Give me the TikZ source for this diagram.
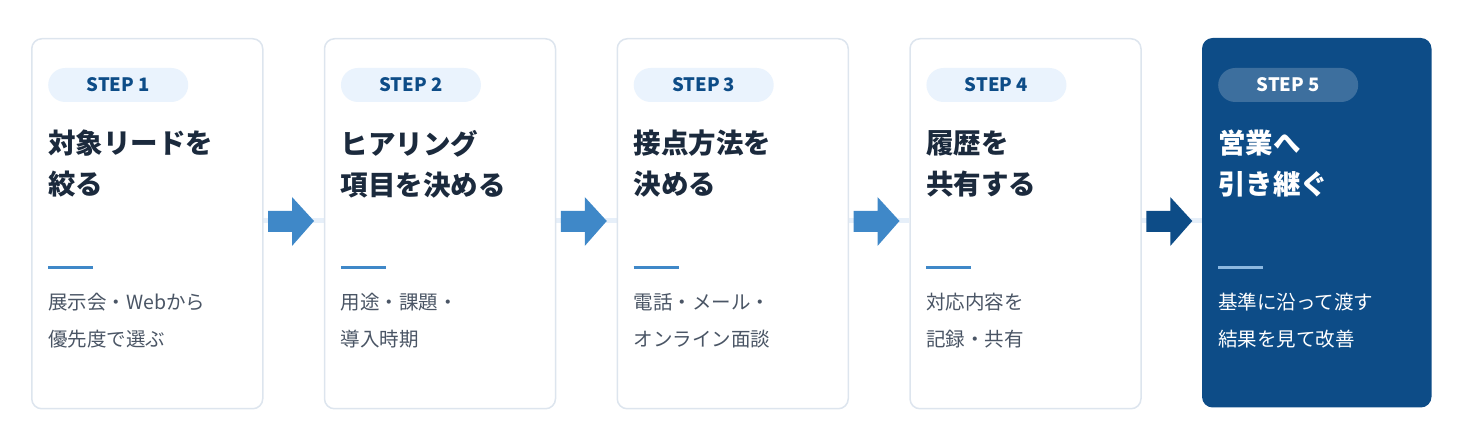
\documentclass[tikz,border=0pt]{standalone}
\usepackage{fontspec}
\setmainfont{Noto Sans CJK JP}
\definecolor{navy}{HTML}{0D4C87}
\definecolor{pill}{HTML}{EAF3FD}
\definecolor{pill5}{HTML}{3D6F9E}
\definecolor{cardb}{HTML}{DDE5EE}
\definecolor{ttl}{HTML}{1B2A3D}
\definecolor{bod}{HTML}{4A5565}
\definecolor{accc}{HTML}{3F88C8}
\definecolor{acc5}{HTML}{8CB8E0}
\definecolor{conn}{HTML}{E6EFF9}
\begin{document}
\begin{tikzpicture}[x=1pt,y=-1pt,
 card/.style={draw=cardb,line width=1.5pt,fill=white,rounded corners=10pt,minimum width=231pt,minimum height=370pt,anchor=north west,inner sep=0},
 card5/.style={card,draw=navy,fill=navy},
 pill/.style={fill=pill,rounded corners=17pt,minimum width=140pt,minimum height=34pt,anchor=west,text=navy,font=\fontsize{18.5}{20}\selectfont\bfseries,inner sep=0},
 ttl/.style={anchor=north west,align=left,inner sep=0,text=ttl,font=\fontsize{27.5}{41}\selectfont\bfseries},
 bod/.style={anchor=north west,align=left,inner sep=0,text=bod,font=\fontsize{19.5}{37}\selectfont},
 accl/.style={line width=3pt,draw=accc},
 conn/.style={draw=conn,line width=5pt}]
\useasboundingbox (0,0) rectangle (1462,427);
\foreach \i in {1,...,4}{
  \pgfmathsetmacro\xx{31+(\i-1)*292.75}
  \coordinate (ca\i) at (\xx+231,221);
  \coordinate (cb\i) at (\xx+292.75,221);
  \draw[conn] (ca\i) -- (cb\i);
}
\foreach \i/\t/\b in {1/{対象リードを\\絞る}/{展示会・Webから\\優先度で選ぶ},
                    2/{ヒアリング\\項目を決める}/{用途・課題・\\導入時期},
                    3/{接点方法を\\決める}/{電話・メール・\\オンライン面談},
                    4/{履歴を\\共有する}/{対応内容を\\記録・共有}}{
  \pgfmathsetmacro\xx{31+(\i-1)*292.75}
  \node[card] (c\i) at (\xx,38) {};
  \node[pill] (p\i) at (\xx+17,85) {STEP \i};
  \node[ttl] (t\i) at (\xx+17,130) {\t};
  \draw[accl] (\xx+17,268) -- (\xx+62,268);
  \node[bod] (b\i) at (\xx+17,293) {\b};
}
\node[card5,minimum width=228pt,minimum height=368pt] (c5) at (1202,38) {};
\node[pill,fill=pill5,text=white] (p5) at (1218,85) {STEP 5};
\node[ttl,text=white] (t5) at (1218,130) {営業へ\\引き継ぐ};
\draw[accl,draw=acc5] (1218,268) -- (1263,268);
\node[bod,text=white] (b5) at (1218,293) {基準に沿って渡す\\結果を見て改善};
\foreach \i in {1,...,4}{
  \pgfmathsetmacro\ax{268+(\i-1)*292.75}
  \ifnum\i=4 \def\ac{navy}\else\def\ac{accc}\fi
  \fill[fill=\ac] (\ax,211) -- (\ax+24,211) -- (\ax+24,197) -- (\ax+46,221) -- (\ax+24,246) -- (\ax+24,232) -- (\ax,232) -- cycle;
}
\end{tikzpicture}
\end{document}
